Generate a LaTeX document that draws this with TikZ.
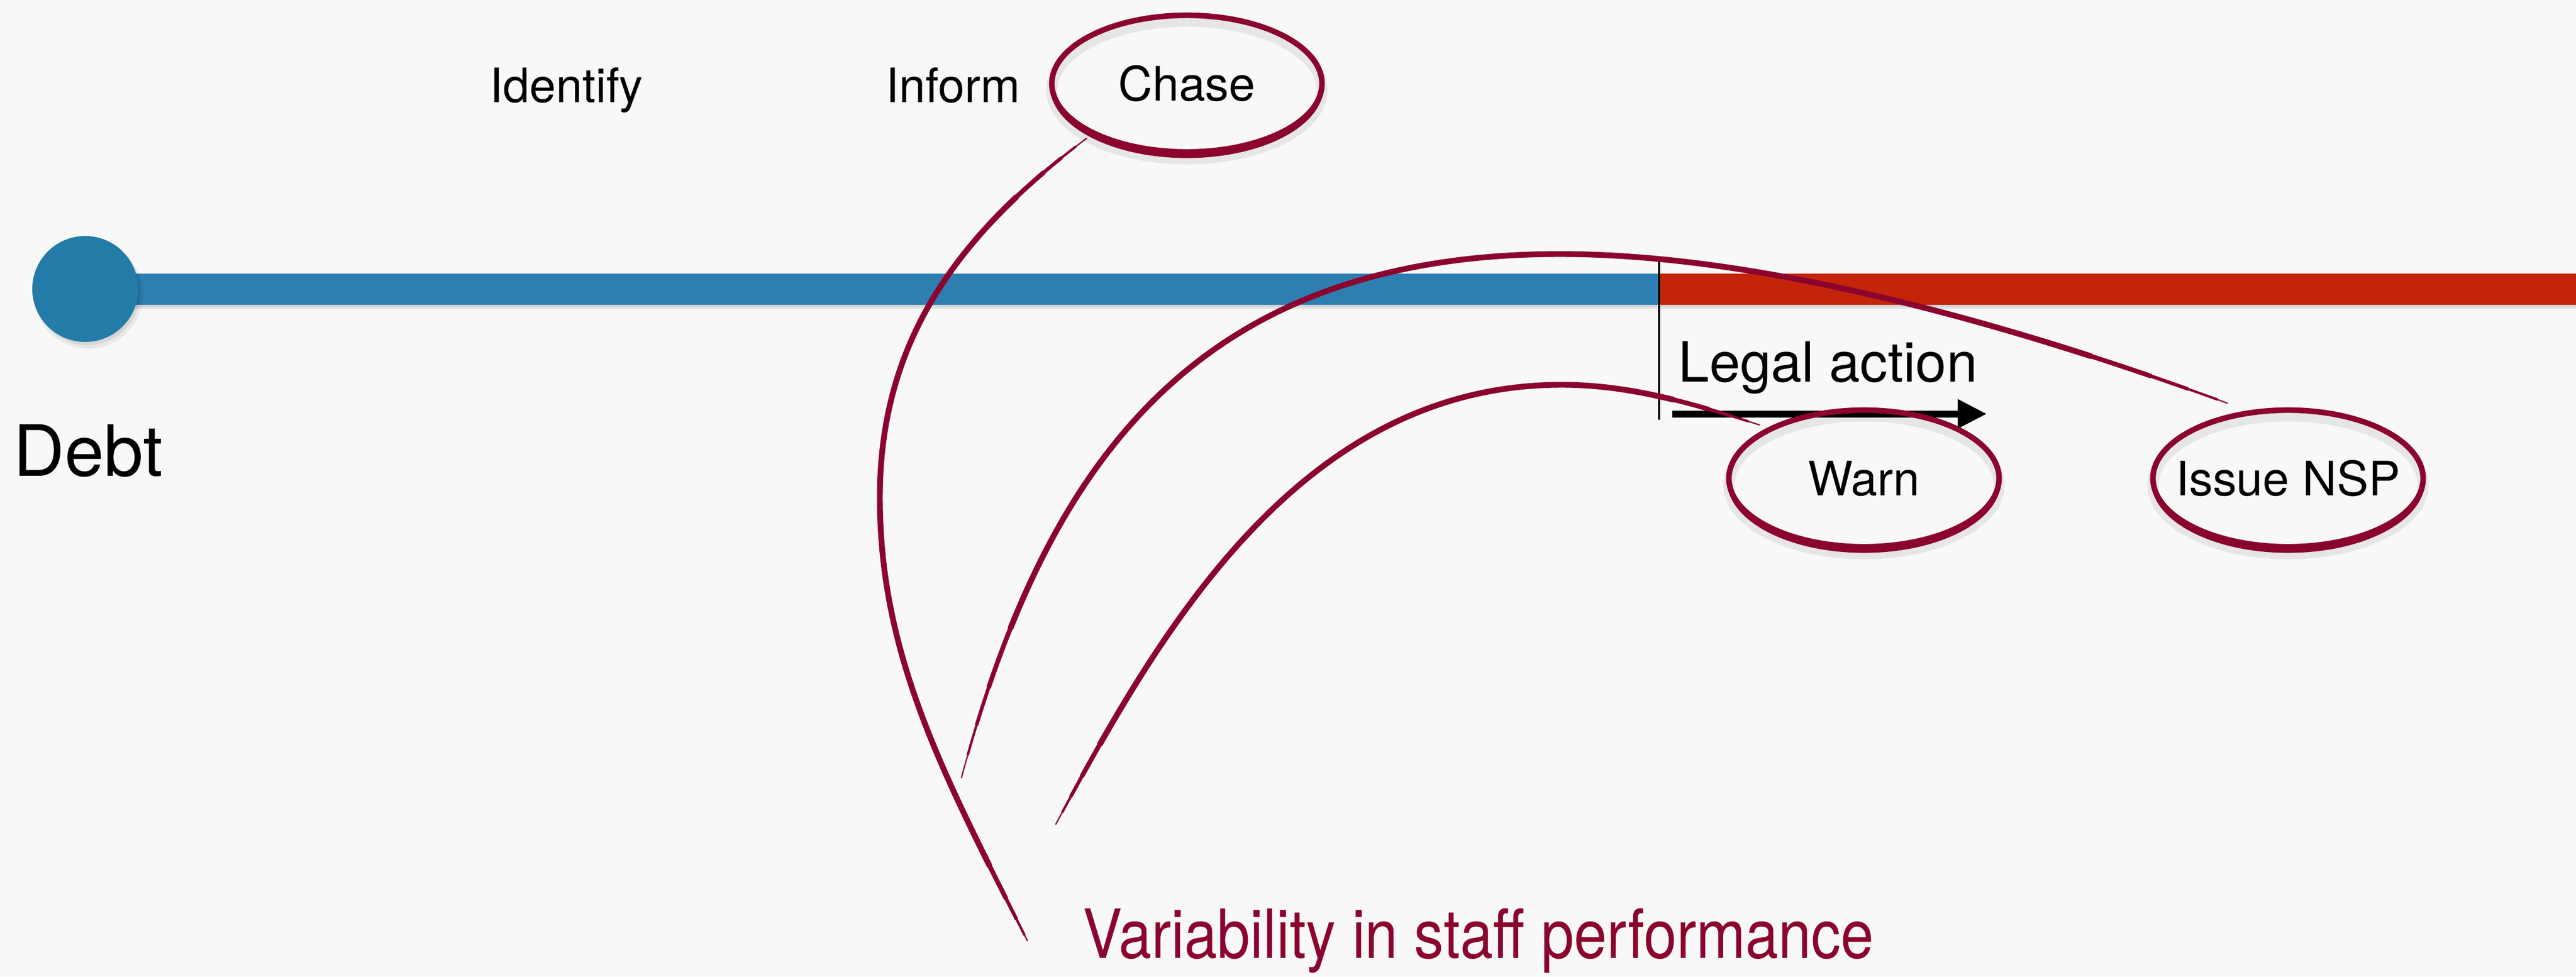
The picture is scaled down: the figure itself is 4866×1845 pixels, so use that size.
\documentclass[tikz,border=0pt]{standalone}
\usepackage{fontspec}
\usepackage{graphicx}
\setmainfont{TeX Gyre Heros}
\usetikzlibrary{shapes.geometric, arrows.meta}
\definecolor{bg}{RGB}{248,248,248}
\definecolor{barblue}{RGB}{46,126,177}
\definecolor{dotblue}{RGB}{35,123,168}
\definecolor{barred}{RGB}{196,36,10}
\definecolor{crim}{RGB}{139,4,46}
% tapered brush stroke: #1 = approx. path length in pt, #2 = path
\newcommand\brushstroke[2]{%
  \foreach \w/\f in {0.7/0, 1.3/0.015, 1.9/0.035, 2.5/0.06, 3.1/0.10}{%
    \pgfmathsetmacro\bA{\f*#1}\pgfmathsetmacro\bB{(1-2*\f)*#1}%
    \draw[crim, line width=\w pt, dash pattern=on 0pt off \bA pt on \bB pt off 5000pt] #2;
  }%
}
\begin{document}
\begin{tikzpicture}[x=0.01cm, y=-0.01cm,
  lbl/.style={font=\fontsize{25.5}{30}\selectfont, inner sep=0pt, anchor=base west},
  lblc/.style={font=\fontsize{25.5}{30}\selectfont, inner sep=0pt},
  oval/.style={ellipse, draw=crim, line width=3pt, minimum width=5.1cm, minimum height=2.58cm, inner sep=0pt},
  ovalshadow/.style={black, opacity=0.07, line width=6pt},
]
\fill[bg] (0,0) rectangle (4866,1845);
\useasboundingbox (0,0) rectangle (4866,1845);

% timeline bars
\fill[black, opacity=0.07] (200,576) rectangle (4866,584);
\fill[black, opacity=0.07] (200,576) rectangle (4866,580);
\fill[barblue] (161,517) rectangle (3134,576);
\fill[barred] (3134,517) rectangle (4866,576);

% start dot
\fill[black, opacity=0.06] (167,556) circle[radius=1.03cm];
\fill[black, opacity=0.08] (165,552) circle[radius=1.0cm];
\node[circle, fill=dotblue, minimum size=2cm, inner sep=0pt] (dot) at (161,546) {};

% texts
\node[lbl, font=\fontsize{38}{44}\selectfont] (debt) at (25,899) {Debt};
\node[lbl] (identify) at (925,193) {Identify};
\node[lbl] (inform) at (1673,193) {Inform};
\node[lbl, font=\fontsize{29.8}{34}\selectfont] (legal) at (3170,721) {Legal action};
\node[anchor=base west, inner sep=0pt, text=crim, font=\fontsize{36.5}{42}\selectfont] (var) at (2045,1810) {\scalebox{0.87}[1]{Variability in staff performance}};

% legal action marker and arrow
\coordinate (vt) at (3134,490);
\coordinate (vb) at (3134,793);
\draw[line width=1.1pt] (vt) -- (vb);
\coordinate (la1) at (3159,782);
\coordinate (la2) at (3753,782);
\draw[line width=3.7pt, -{Triangle[length=15.6pt, width=14.8pt]}] (la1) -- (la2);

% ellipse shadows
\draw[ovalshadow] (2242,170) ellipse[x radius=2.55cm, y radius=1.30cm];
\draw[ovalshadow] (3521,916) ellipse[x radius=2.55cm, y radius=1.30cm];
\draw[ovalshadow] (4322,916) ellipse[x radius=2.55cm, y radius=1.30cm];

% circled steps
\node[oval, label={[lblc]center:Chase}] (chase) at (2242,158) {};
\node[oval, label={[lblc]center:Warn}] (warn) at (3521,904) {};
\node[oval, label={[lblc]center:Issue NSP}] (nsp) at (4322,904) {};
\foreach \n in {chase, warn, nsp}{
  \draw[crim, line width=2pt] ([yshift=-0.04cm]\n.center) ellipse[x radius=2.55cm, y radius=1.33cm];
}

% brush curves
\coordinate (c1a) at (2053,261);
\coordinate (c1m) at (1662,940);
\coordinate (c1b) at (1941,1778);
\coordinate (c2a) at (1816,1470);
\coordinate (c2m) at (2947,480);
\coordinate (c2b) at (4208,762);
\coordinate (c3a) at (1994,1558);
\coordinate (c3m) at (2950,727);
\coordinate (c3b) at (3324,803);
\brushstroke{490}{(c1a) .. controls (1813,441) and (1662,640) .. (c1m) .. controls (1662,1240) and (1783,1466) .. (c1b)}
\brushstroke{845}{(c2a) .. controls (1972,891) and (2247,480) .. (c2m) .. controls (3297,480) and (3738,590) .. (c2b)}
\brushstroke{490}{(c3a) .. controls (2184,1206) and (2450,727) .. (c3m) .. controls (3080,727) and (3200,763) .. (c3b)}
\end{tikzpicture}
\end{document}
